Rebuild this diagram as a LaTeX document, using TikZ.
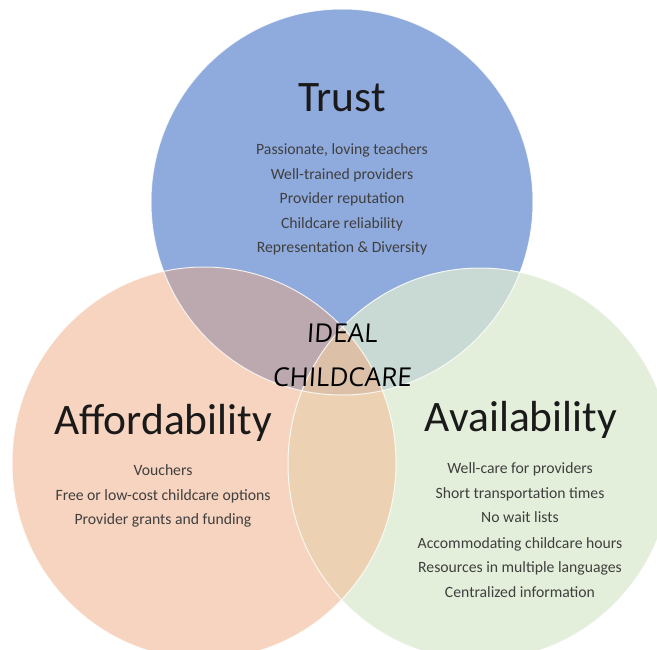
\documentclass[tikz,border=0pt]{standalone}
\usepackage{fontspec}
\setmainfont{Carlito}
\newfontfamily\handfont{Open Sans}[FakeSlant=0.06]
\definecolor{trustc}{HTML}{8FAADC}
\definecolor{affc}{HTML}{F7D4BF}
\definecolor{availc}{HTML}{E3EFDB}
\definecolor{tac}{HTML}{BCA9AF}
\definecolor{tvc}{HTML}{C9DAD5}
\definecolor{avc}{HTML}{ECD2B2}
\definecolor{tavc}{HTML}{DCC1A8}
\definecolor{titlec}{HTML}{1A1A1A}
\definecolor{bodyc}{HTML}{3F3F3F}
\begin{document}
\begin{tikzpicture}[x=1pt,y=-1pt,
  title/.style={font=\fontsize{43.5}{50}\selectfont, text=titlec, anchor=base, inner sep=0pt},
  item/.style={font=\fontsize{15.7}{19}\selectfont, text=bodyc, anchor=base, inner sep=0pt},
  ideal/.style={font=\handfont\fontsize{26}{30}\selectfont, text=black, anchor=base, inner sep=0pt},
  rim/.style={draw=white, line width=1pt, draw opacity=0.8}]
\useasboundingbox (0,0) rectangle (657,649);
\def\Tc{(342,202) ellipse (191 and 193)}
\def\Ac{(204,463) ellipse (192 and 196)}
\def\Vc{(480,464) ellipse (192 and 196)}
% base circles
\fill[trustc] \Tc;
\fill[affc] \Ac;
\fill[availc] \Vc;
% pairwise overlaps
\begin{scope}\clip \Tc; \fill[tac] \Ac; \end{scope}
\begin{scope}\clip \Tc; \fill[tvc] \Vc; \end{scope}
\begin{scope}\clip \Ac; \fill[avc] \Vc; \end{scope}
\begin{scope}\clip \Tc; \clip \Ac; \fill[tavc] \Vc; \end{scope}
% rims
\draw[rim] \Tc;
\draw[rim] \Ac;
\draw[rim] \Vc;
% titles
\node[title] (trust) at (342,111) {Trust};
\node[title] (afford) at (163,434) {Affordability};
\node[title] (avail) at (521,431.5) {Availability};
% items
\node[item] (t1) at (342,154) {Passionate, loving teachers};
\node[item] (t2) at (342,179) {Well-trained providers};
\node[item] (t3) at (342,203) {Provider reputation};
\node[item] (t4) at (342,228) {Childcare reliability};
\node[item] (t5) at (342,252) {Representation \& Diversity};
\node[item] (a1) at (163,475) {Vouchers};
\node[item] (a2) at (163,500) {Free or low-cost childcare options};
\node[item] (a3) at (163,524) {Provider grants and funding};
\node[item] (v1) at (520,473) {Well-care for providers};
\node[item] (v2) at (520,498) {Short transportation times};
\node[item] (v3) at (520,522) {No wait lists};
\node[item] (v4) at (520,548) {Accommodating childcare hours};
\node[item] (v5) at (520,572) {Resources in multiple languages};
\node[item] (v6) at (520,597) {Centralized information};
% centre
\node[ideal] (ideal) at (342,342) {IDEAL};
\node[ideal] (child) at (342,386) {CHILDCARE};
\end{tikzpicture}
\end{document}
